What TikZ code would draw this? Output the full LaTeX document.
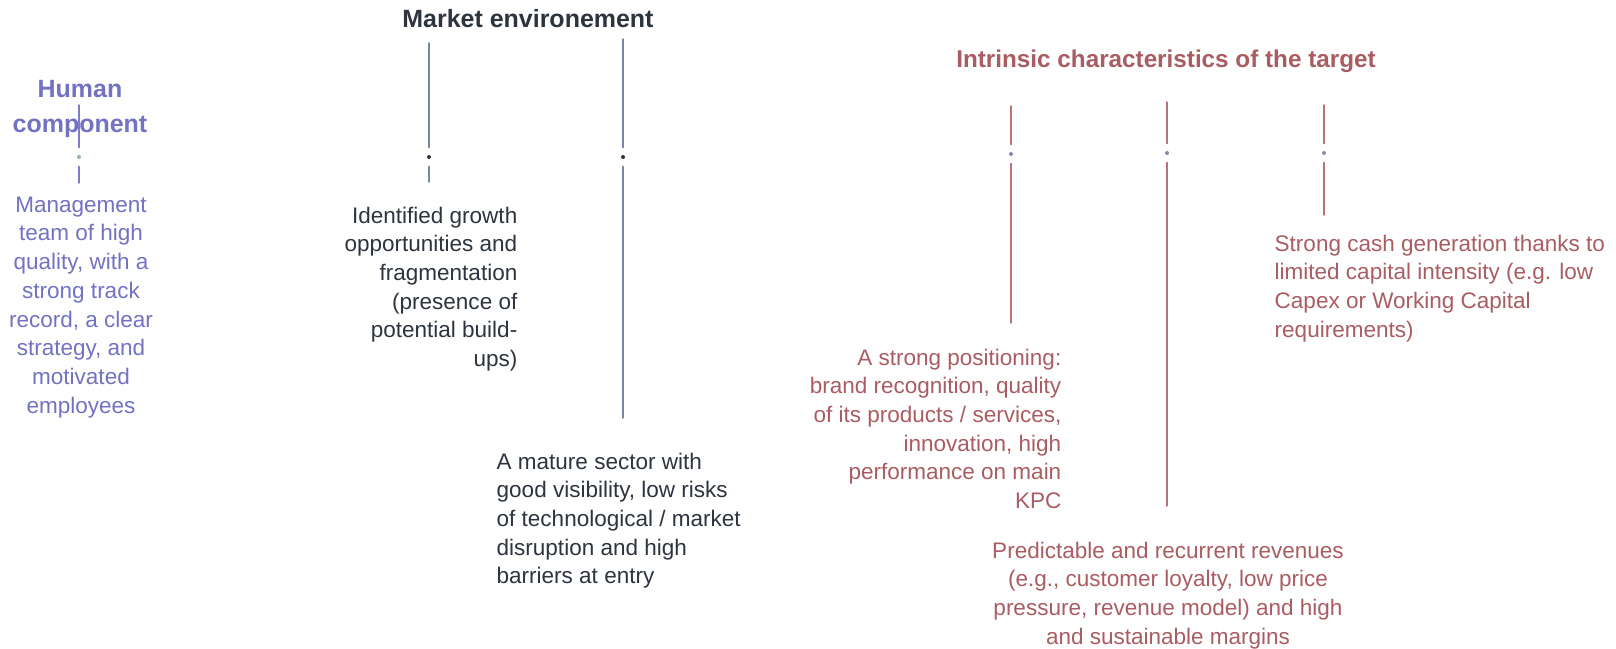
\documentclass[tikz,border=0pt]{standalone}
\usepackage{fontspec}
\setmainfont{Liberation Sans}

\definecolor{humcol}{HTML}{7272C2}
\definecolor{humstem}{HTML}{7D7DCC}
\definecolor{humdot}{HTML}{8FB4B8}
\definecolor{mktcol}{HTML}{2D343E}
\definecolor{mktstem}{HTML}{7587A3}
\definecolor{tgtcol}{HTML}{A95D62}
\definecolor{tgtstem}{HTML}{B8737A}
\definecolor{tgtdot}{HTML}{8A8AAB}

\begin{document}
\begin{tikzpicture}[x=0.01cm,y=-0.01cm,line cap=round]
	\tikzstyle{head}=[inner sep=0pt,font=\fontsize{7.1}{9.7}\selectfont\bfseries];
	\tikzstyle{txt}=[inner sep=0pt,font=\fontsize{6.4}{8.17}\selectfont];
	\tikzstyle{pin}=[circle,inner sep=0pt,minimum size=0.04cm,outer sep=0.075cm];
	\tikzstyle{stem}=[line width=0.4pt];

	\fill[white] (0,0) rectangle (1616,648);

	% human component
	\node[head,text=humcol,align=center,anchor=north] (humhead) at (80,80) {Human\\component};
	\node[txt,text=humcol,align=center,anchor=north] (humtxt) at (81,196)
		{Management\\team of high\\quality, with a\\strong track\\record, a clear\\strategy, and\\motivated\\employees};
	\coordinate (h1t) at (79,105);
	\node[pin,fill=humdot] (h1) at (79,157) {};
	\coordinate (h1b) at (79,183);
	\draw[stem,humstem] (h1t) -- (h1) -- (h1b);

	% market environement
	\node[head,text=mktcol,anchor=base] (mkthead) at (528,27) {Market environement};
	\node[txt,text=mktcol,align=right,anchor=north east] (growth) at (518,206)
		{Identified growth\\opportunities and\\fragmentation\\(presence of\\potential build-\\ups)};
	\node[txt,text=mktcol,align=left,anchor=north west] (mature) at (496,452)
		{A mature sector with\\good visibility, low risks\\of technological / market\\disruption and high\\barriers at entry};
	\coordinate (m1t) at (429,43);
	\node[pin,fill=mktcol] (m1) at (429,157) {};
	\coordinate (m1b) at (429,182);
	\coordinate (m2t) at (623,39);
	\node[pin,fill=mktcol] (m2) at (623,157) {};
	\coordinate (m2b) at (623,418);
	\draw[stem,mktstem] (m1t) -- (m1) -- (m1b);
	\draw[stem,mktstem] (m2t) -- (m2) -- (m2b);

	% intrinsic characteristics
	\node[head,text=tgtcol,anchor=base,font=\fontsize{6.9}{9.7}\selectfont\bfseries] (tgthead) at (1166,67) {Intrinsic characteristics of the target};
	\node[txt,text=tgtcol,align=right,anchor=north east] (position) at (1062,348)
		{A strong positioning:\\brand recognition, quality\\of its products / services,\\innovation, high\\performance on main\\KPC};
	\node[txt,text=tgtcol,align=center,anchor=north] (revenue) at (1168,541)
		{Predictable and recurrent revenues\\(e.g., customer loyalty, low price\\pressure, revenue model) and high\\and sustainable margins};
	\node[txt,text=tgtcol,align=left,anchor=north west] (cash) at (1274,234)
		{Strong cash generation thanks to\\limited capital intensity (e.g. low\\Capex or Working Capital\\requirements)};
	\coordinate (t1t) at (1011,106);
	\node[pin,fill=tgtdot] (t1) at (1011,154) {};
	\coordinate (t1b) at (1011,323);
	\coordinate (t2t) at (1167,102);
	\node[pin,fill=tgtdot] (t2) at (1167,153) {};
	\coordinate (t2b) at (1167,506);
	\coordinate (t3t) at (1324,105);
	\node[pin,fill=tgtdot] (t3) at (1324,153) {};
	\coordinate (t3b) at (1324,215);
	\draw[stem,tgtstem] (t1t) -- (t1) -- (t1b);
	\draw[stem,tgtstem] (t2t) -- (t2) -- (t2b);
	\draw[stem,tgtstem] (t3t) -- (t3) -- (t3b);
\end{tikzpicture}
\end{document}
